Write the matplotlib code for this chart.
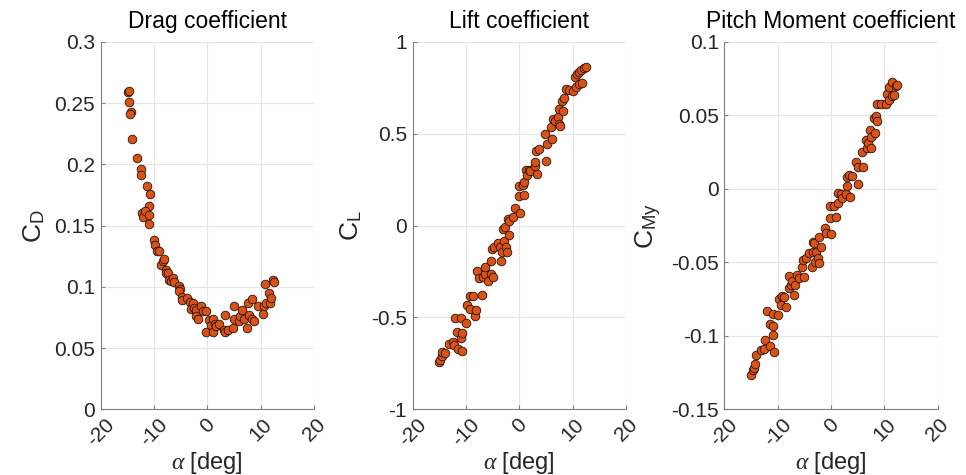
import numpy as np
import matplotlib
matplotlib.use('Agg')
import matplotlib.pyplot as plt

# Drag coefficient readings
alpha_cd = [-14.9, -14.6, -14.6, -14.4, -14.5, -14.1, -13.1, -12.4, -12.4, -11.4,
            -10.7, -10.9, -12.2, -12.1, -11.6, -10.9, -10.9, -10.0, -9.75, -9.4,
            -9.1, -8.75, -8.3, -8.1, -7.8, -7.7, -7.4, -7.1, -6.75, -6.4,
            -6.3, -5.3, -5.1, -5.3, -4.7, -4.7, -3.9, -3.3, -3.1, -2.7,
            -2.5, -2.2, -2.1, -1.75, -1.1, -0.8, -0.2, -0.2, 0.3, 0.75,
            1.1, 1.1, 1.4, 1.7, 2.2, 3.25, 3.1, 3.4, 3.9, 4.8,
            5.0, 5.1, 5.9, 6.1, 6.6, 6.9, 7.5, 7.6, 7.9, 8.4,
            8.4, 8.7, 9.5, 10.4, 10.6, 10.75, 11.1, 11.6, 11.8, 12.0,
            12.3, 12.5]
cd = [0.259, 0.260, 0.251, 0.243, 0.241, 0.221, 0.205, 0.196, 0.191, 0.182,
      0.176, 0.166, 0.160, 0.157, 0.162, 0.159, 0.151, 0.138, 0.134, 0.129,
      0.129, 0.118, 0.121, 0.123, 0.114, 0.111, 0.111, 0.106, 0.105, 0.107,
      0.104, 0.101, 0.098, 0.097, 0.092, 0.089, 0.091, 0.088, 0.082, 0.087,
      0.083, 0.081, 0.076, 0.074, 0.084, 0.080, 0.080, 0.063, 0.073, 0.069,
      0.074, 0.063, 0.070, 0.068, 0.070, 0.077, 0.065, 0.063, 0.065, 0.066,
      0.084, 0.074, 0.072, 0.076, 0.081, 0.074, 0.066, 0.087, 0.077, 0.090,
      0.074, 0.072, 0.084, 0.078, 0.084, 0.102, 0.087, 0.095, 0.087, 0.091,
      0.106, 0.104]

# Lift coefficient readings
alpha_cl = [-15.1, -14.8, -14.5, -14.5, -14.0, -13.2, -12.5, -12.3, -12.1, -11.7,
            -11.5, -11.0, -10.9, -10.8, -10.7, -10.0, -9.8, -9.3, -9.2, -8.7,
            -8.4, -8.2, -8.0, -7.5, -7.0, -6.85, -6.5, -6.4, -5.9, -5.4,
            -5.3, -5.1, -4.9, -4.7, -4.05, -3.7, -3.4, -3.3, -3.1, -2.8,
            -2.6, -2.5, -2.3, -2.2, -2.0, -1.9, -1.25, -0.9, -0.1, -0.1,
            0.2, 0.6, 0.9, 0.9, 1.25, 1.4, 1.9, 2.0, 2.9, 3.0,
            3.4, 3.1, 3.7, 4.8, 5.0, 5.1, 5.9, 6.1, 6.4, 6.7,
            7.2, 7.35, 7.5, 7.6, 8.0, 8.2, 8.3, 8.7, 9.3, 10.1,
            10.5, 10.6, 10.8, 11.1, 11.2, 11.65, 11.8, 12.1, 12.5]
cl = [-0.740, -0.731, -0.710, -0.686, -0.691, -0.644, -0.632, -0.650, -0.505, -0.577,
      -0.673, -0.505, -0.613, -0.586, -0.681, -0.532, -0.432, -0.456, -0.381, -0.383,
      -0.490, -0.459, -0.245, -0.287, -0.377, -0.281, -0.263, -0.227, -0.299, -0.263,
      -0.191, -0.129, -0.278, -0.114, -0.093, -0.114, -0.191, -0.142, -0.018, -0.082,
      -0.005, -0.116, -0.142, 0.034, 0.027, -0.051, 0.045, 0.094, 0.162, 0.218,
      0.067, 0.221, 0.167, 0.240, 0.303, 0.276, 0.303, 0.299, 0.325, 0.348,
      0.281, 0.408, 0.417, 0.499, 0.354, 0.445, 0.539, 0.470, 0.581, 0.572,
      0.590, 0.635, 0.554, 0.544, 0.681, 0.626, 0.693, 0.742, 0.739, 0.733,
      0.811, 0.757, 0.826, 0.838, 0.771, 0.848, 0.779, 0.860, 0.862]

# Pitch moment coefficient readings
alpha_cm = [-14.95, -14.6, -14.45, -14.3, -14.0, -13.1, -12.5, -12.3, -12.0, -11.5,
            -11.4, -10.9, -10.8, -10.9, -10.7, -10.0, -9.8, -9.35, -9.2, -8.85,
            -8.4, -7.9, -7.8, -7.5, -7.3, -7.0, -6.7, -6.4, -5.9, -5.4,
            -5.2, -5.0, -4.7, -4.05, -3.55, -3.4, -3.3, -3.1, -3.0, -2.8,
            -2.5, -2.3, -2.3, -1.9, -1.1, -0.9, -0.2, -0.2, 0.1, 0.6,
            0.9, 1.25, 1.4, 1.9, 2.05, 2.9, 3.1, 3.1, 3.4, 3.55,
            3.9, 4.7, 5.0, 5.0, 5.8, 6.05, 6.5, 6.85, 7.0, 7.35,
            7.5, 7.5, 8.0, 8.3, 8.5, 8.6, 8.7, 9.35, 10.3, 10.5,
            10.8, 10.9, 11.5, 11.5, 11.8, 12.15, 12.3]
cmy = [-0.1268, -0.1234, -0.1216, -0.1189, -0.1132, -0.1093, -0.1091, -0.1025, -0.0830, -0.0920,
       -0.1070, -0.0995, -0.0934, -0.0848, -0.1109, -0.0859, -0.0752, -0.0791, -0.0730, -0.0739,
       -0.0807, -0.0593, -0.0677, -0.0655, -0.0625, -0.0723, -0.0655, -0.0586, -0.0609, -0.0534,
       -0.0484, -0.0598, -0.0473, -0.0439, -0.0530, -0.0427, -0.0359, -0.0370, -0.0495, -0.0427,
       -0.0473, -0.0507, -0.0325, -0.0393, -0.0268, -0.0302, -0.0116, -0.0200, -0.0307, -0.0116,
       -0.0193, -0.0030, -0.0093, -0.0036, -0.0064, -0.0036, 0.0020, 0.0084, 0.0095, -0.0052,
       0.0089, 0.0186, 0.0148, 0.0032, 0.0248, 0.0152, 0.0334, 0.0277, 0.0311, 0.0402,
       0.0277, 0.0352, 0.0486, 0.0380, 0.0498, 0.0459, 0.0580, 0.0580, 0.0580, 0.0648,
       0.0607, 0.0693, 0.0725, 0.0630, 0.0641, 0.0702, 0.0709]

titles = ['Drag coefficient', 'Lift coefficient', 'Pitch Moment coefficient']
ylabels = [r'C$_\mathregular{D}$', r'C$_\mathregular{L}$', r'C$_\mathregular{My}$']
ylims = [(0, 0.3), (-1, 1), (-0.15, 0.1)]
yticks = [np.arange(0, 0.31, 0.05), np.arange(-1, 1.01, 0.5), np.arange(-0.15, 0.101, 0.05)]
yticklabels = [['0', '0.05', '0.1', '0.15', '0.2', '0.25', '0.3'],
               ['-1', '-0.5', '0', '0.5', '1'],
               ['-0.15', '-0.1', '-0.05', '0', '0.05', '0.1']]
xticks = [-20, -10, 0, 10, 20]

plt.rcParams['font.family'] = ['Liberation Sans', 'DejaVu Sans']
plt.rcParams['mathtext.fontset'] = 'custom'
plt.rcParams['mathtext.rm'] = 'Liberation Sans'
plt.rcParams['mathtext.it'] = 'Liberation Serif:italic'

fig = plt.figure(figsize=(9.66, 4.75), dpi=100)
lefts = [0.1042, 0.4272, 0.7498]
data = [(alpha_cd, cd), (alpha_cl, cl), (alpha_cm, cmy)]

for i in range(3):
    ax = fig.add_axes([lefts[i], 0.1383, 0.2208, 0.7733])
    x, y = data[i]
    ax.plot(x, y, 'o', ms=6.2, mfc='#D95319', mec='#2a1208', mew=0.6, zorder=3)
    ax.set_xlim(-20, 20)
    ax.set_ylim(*ylims[i])
    ax.set_xticks(xticks)
    ax.set_xticklabels([str(t) for t in xticks], rotation=45, ha='center', va='top')
    ax.set_yticks(yticks[i])
    ax.set_yticklabels(yticklabels[i])
    ax.grid(True, color='#e6e6e6', lw=0.8, zorder=0)
    ax.set_axisbelow(True)
    for s in ['top', 'right']:
        ax.spines[s].set_visible(False)
    for s in ['left', 'bottom']:
        ax.spines[s].set_color('#808080')
        ax.spines[s].set_linewidth(0.8)
    ax.tick_params(direction='in', length=3, width=0.8, color='#808080',
                   labelcolor='#262626', labelsize=15, pad=4)
    ax.set_title(titles[i], fontsize=16.5, pad=10)
    ax.set_ylabel(ylabels[i], fontsize=19, color='#262626', labelpad=5)
    ax.set_xlabel(r'$\alpha$ [deg]', fontsize=17, color='#262626', labelpad=0)

fig.savefig('out.png', dpi=100)
